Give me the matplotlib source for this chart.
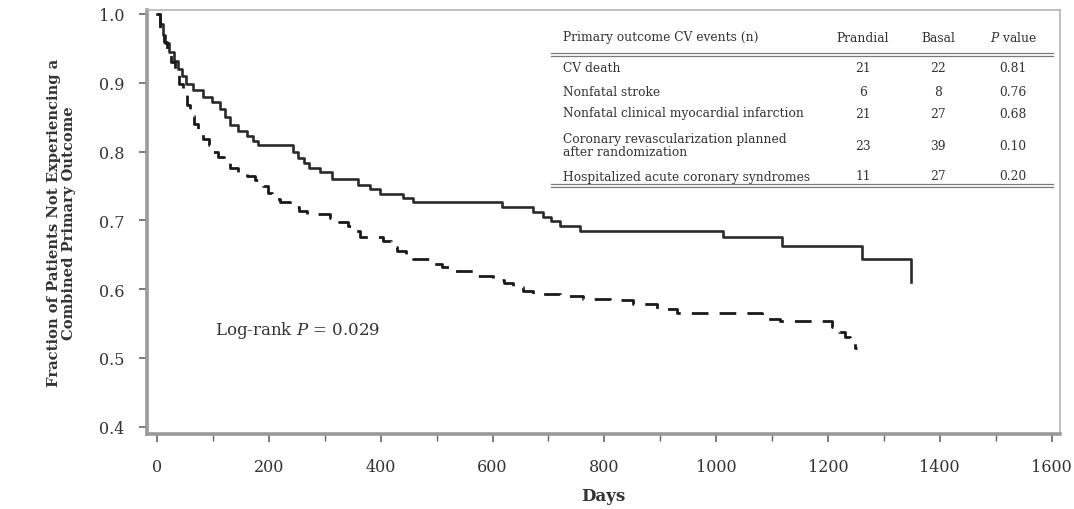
import matplotlib

matplotlib.use("Agg")
import matplotlib.pyplot as plt
from matplotlib.lines import Line2D
from matplotlib.ticker import FormatStrFormatter, MultipleLocator

# Kaplan-Meier steps: event day -> fraction event-free
prandial_days = [0, 5, 10, 15, 22, 30, 38, 45, 52, 65, 82, 98, 113, 122, 131, 145,
                 161, 172, 181, 243, 252, 262, 272, 292, 313, 360, 380, 399, 440,
                 458, 617, 673, 690, 705, 721, 757, 1013, 1118, 1261, 1348]
prandial_surv = [1.0, 0.985, 0.97, 0.958, 0.945, 0.932, 0.92, 0.91, 0.898, 0.89,
                 0.879, 0.872, 0.862, 0.85, 0.838, 0.83, 0.823, 0.816, 0.81, 0.80,
                 0.79, 0.783, 0.776, 0.770, 0.760, 0.752, 0.745, 0.738, 0.732,
                 0.726, 0.719, 0.712, 0.705, 0.699, 0.692, 0.685, 0.676, 0.663,
                 0.644, 0.61]

basal_days = [0, 6, 12, 18, 25, 32, 40, 47, 53, 59, 66, 74, 83, 92, 100, 109, 120,
              131, 145, 161, 175, 190, 198, 205, 220, 238, 253, 268, 309, 325, 342,
              353, 363, 404, 418, 429, 445, 458, 492, 510, 530, 572, 601, 620, 637,
              655, 673, 721, 762, 810, 852, 894, 930, 1082, 1114, 1207, 1220, 1231,
              1240, 1249, 1252]
basal_surv = [1.0, 0.98, 0.96, 0.945, 0.93, 0.912, 0.898, 0.882, 0.868, 0.852, 0.84,
              0.828, 0.818, 0.81, 0.80, 0.792, 0.785, 0.776, 0.77, 0.765, 0.758,
              0.75, 0.74, 0.731, 0.726, 0.72, 0.714, 0.709, 0.704, 0.698, 0.692,
              0.684, 0.676, 0.67, 0.662, 0.655, 0.65, 0.644, 0.637, 0.632, 0.626,
              0.619, 0.614, 0.609, 0.603, 0.598, 0.593, 0.590, 0.586, 0.584, 0.578,
              0.571, 0.565, 0.557, 0.554, 0.545, 0.538, 0.531, 0.524, 0.515, 0.515]

# inset table of component events
table_header = ["Primary outcome CV events (n)", "Prandial", "Basal", "value"]
event_names = ["CV death", "Nonfatal stroke", "Nonfatal clinical myocardial infarction",
               "Coronary revascularization planned\nafter randomization",
               "Hospitalized acute coronary syndromes"]
prandial_n = ["21", "6", "21", "23", "11"]
basal_n = ["22", "8", "27", "39", "27"]
p_values = ["0.81", "0.76", "0.68", "0.10", "0.20"]

W, H = 1074, 510
plt.rcParams["font.family"] = ["DejaVu Serif"]
plt.rcParams["mathtext.fontset"] = "dejavuserif"
TXT = "#333333"
AXC = "#9a9a9a"


def fx(px):
    return px / W


def fy(py):
    return 1 - py / H


fig = plt.figure(figsize=(W / 100, H / 100), dpi=100)
ax = fig.add_axes([fx(147), fy(435), fx(1060 - 147), (435 - 11) / H])

ax.step(prandial_days, prandial_surv, where="post", color="#2a2a2a", lw=1.9)
ax.step(basal_days, basal_surv, where="post", color="#1a1a1a", lw=2.0,
        linestyle=(0, (6, 4)))

ax.set_xlim(-18, 1615)
ax.set_ylim(0.3895, 1.0058)
ax.xaxis.set_major_locator(MultipleLocator(200))
ax.xaxis.set_minor_locator(MultipleLocator(100))
ax.yaxis.set_major_locator(MultipleLocator(0.1))
ax.yaxis.set_major_formatter(FormatStrFormatter("%.1f"))

for side in ("left", "bottom"):
    ax.spines[side].set_color(AXC)
    ax.spines[side].set_linewidth(2.6)
for side in ("top", "right"):
    ax.spines[side].set_color("#b5b5b5")
    ax.spines[side].set_linewidth(1.2)
ax.tick_params(axis="both", which="both", direction="out", color="#666666",
               labelcolor=TXT, labelsize=11.5)
ax.tick_params(axis="both", which="major", length=6, width=1.2, pad=10)
ax.tick_params(axis="x", which="minor", length=5, width=1.0)
ax.tick_params(axis="x", which="major", pad=11)

ax.set_xlabel("Days", fontsize=12, fontweight="bold", color=TXT, labelpad=9)
ax.set_ylabel("Fraction of Patients Not Experiencing a\nCombined Primary Outcome",
              fontsize=10.6, fontweight="bold", color=TXT, labelpad=17,
              linespacing=1.05)

ax.text(104, 0.542, "Log-rank $\\mathit{P}$ = 0.029", fontsize=12, color=TXT,
        va="center", ha="left")

# table drawn in figure pixel positions
tfs = 8.8
col_x = [563, 863, 938, 1013]
fig.text(fx(col_x[0]), fy(38), table_header[0], fontsize=tfs, color=TXT,
         va="center", ha="left")
fig.text(fx(col_x[1]), fy(38), table_header[1], fontsize=tfs, color=TXT,
         va="center", ha="center")
fig.text(fx(col_x[2]), fy(38), table_header[2], fontsize=tfs, color=TXT,
         va="center", ha="center")
fig.text(fx(col_x[3]), fy(38), "$\\mathit{P}$ " + table_header[3], fontsize=tfs,
         color=TXT, va="center", ha="center")

row_y = [68, 92, 114, 146, 177]
for name, a, b, p, y in zip(event_names, prandial_n, basal_n, p_values, row_y):
    fig.text(fx(col_x[0]), fy(y), name, fontsize=tfs, color=TXT, va="center",
             ha="left", linespacing=1.05)
    for xv, s in zip(col_x[1:], (a, b, p)):
        fig.text(fx(xv), fy(y), s, fontsize=tfs, color=TXT, va="center",
                 ha="center")

for yy in (54, 56.5, 185, 187.5):
    fig.add_artist(Line2D([fx(551), fx(1053)], [fy(yy), fy(yy)], color="#7a7a7a",
                          lw=0.9, transform=fig.transFigure))

fig.savefig("out.png", dpi=100)
